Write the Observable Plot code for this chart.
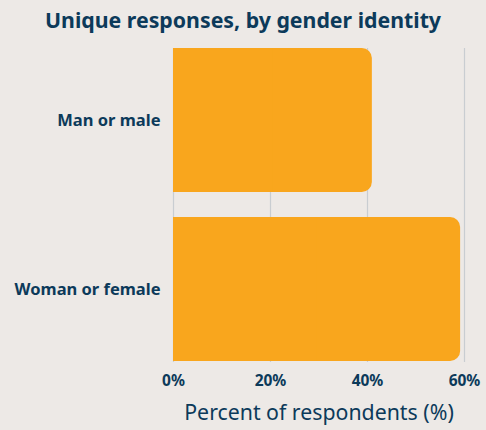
<!DOCTYPE html>
<html>
<head>
<meta charset="utf-8">
<script src="https://cdn.jsdelivr.net/npm/d3@7"></script>
<script src="https://cdn.jsdelivr.net/npm/@observablehq/plot@0.6"></script>
<style>
  html, body { margin: 0; padding: 0; background: #ede9e6; }
  body { width: 486px; height: 430px; overflow: hidden; font-family: "Noto Sans", "Open Sans", sans-serif; }
  #title { height: 40px; line-height: 40px; text-align: center; font-size: 21.3px; font-weight: 700; color: #0c3a5a; }
</style>
</head>
<body>
<div id="title">Unique responses, by gender identity</div>
<div id="chart"></div>
<script>
const categories = ["Man or male", "Woman or female"];
const values = [41.0, 59.2];
const xTicks = [0, 20, 40, 60];
const xLabel = "Percent of respondents (%)";

const data = categories.map((c, i) => ({category: c, value: values[i]}));
const ink = "#0c3a5a";
const barColor = "#f9a61d";

const plot = Plot.plot({
  width: 486,
  height: 390,
  marginTop: 8,
  marginBottom: 68,
  marginLeft: 173,
  marginRight: 22,
  style: {background: "#ede9e6", fontFamily: "'Noto Sans', 'Open Sans', sans-serif", color: ink},
  x: {domain: [0, 60]},
  y: {domain: categories, paddingInner: 0.145, paddingOuter: 0},
  marks: [
    Plot.ruleX(xTicks, {stroke: "#c9cdd1", strokeWidth: 1.2, strokeOpacity: 1}),
    Plot.barX(data, {y: "category", x1: 0, x2: "value", fill: barColor, rx: 10}),
    Plot.barX(data, {y: "category", x1: 0, x2: d => d.value / 2, fill: barColor}),
    Plot.axisX(xTicks, {tickSize: 0, tickPadding: 12, tickFormat: d => d + "%", fontSize: 15.5, fontWeight: 700, fill: ink, label: null}),
    Plot.axisY({tickSize: 0, tickPadding: 13, fontSize: 16.5, fontWeight: 700, fill: ink, label: null}),
    Plot.text([xLabel], {frameAnchor: "bottom", lineAnchor: "middle", dy: 51, fontSize: 21.3, fill: ink, text: d => d})
  ]
});
document.getElementById("chart").appendChild(plot);
</script>
</body>
</html>
